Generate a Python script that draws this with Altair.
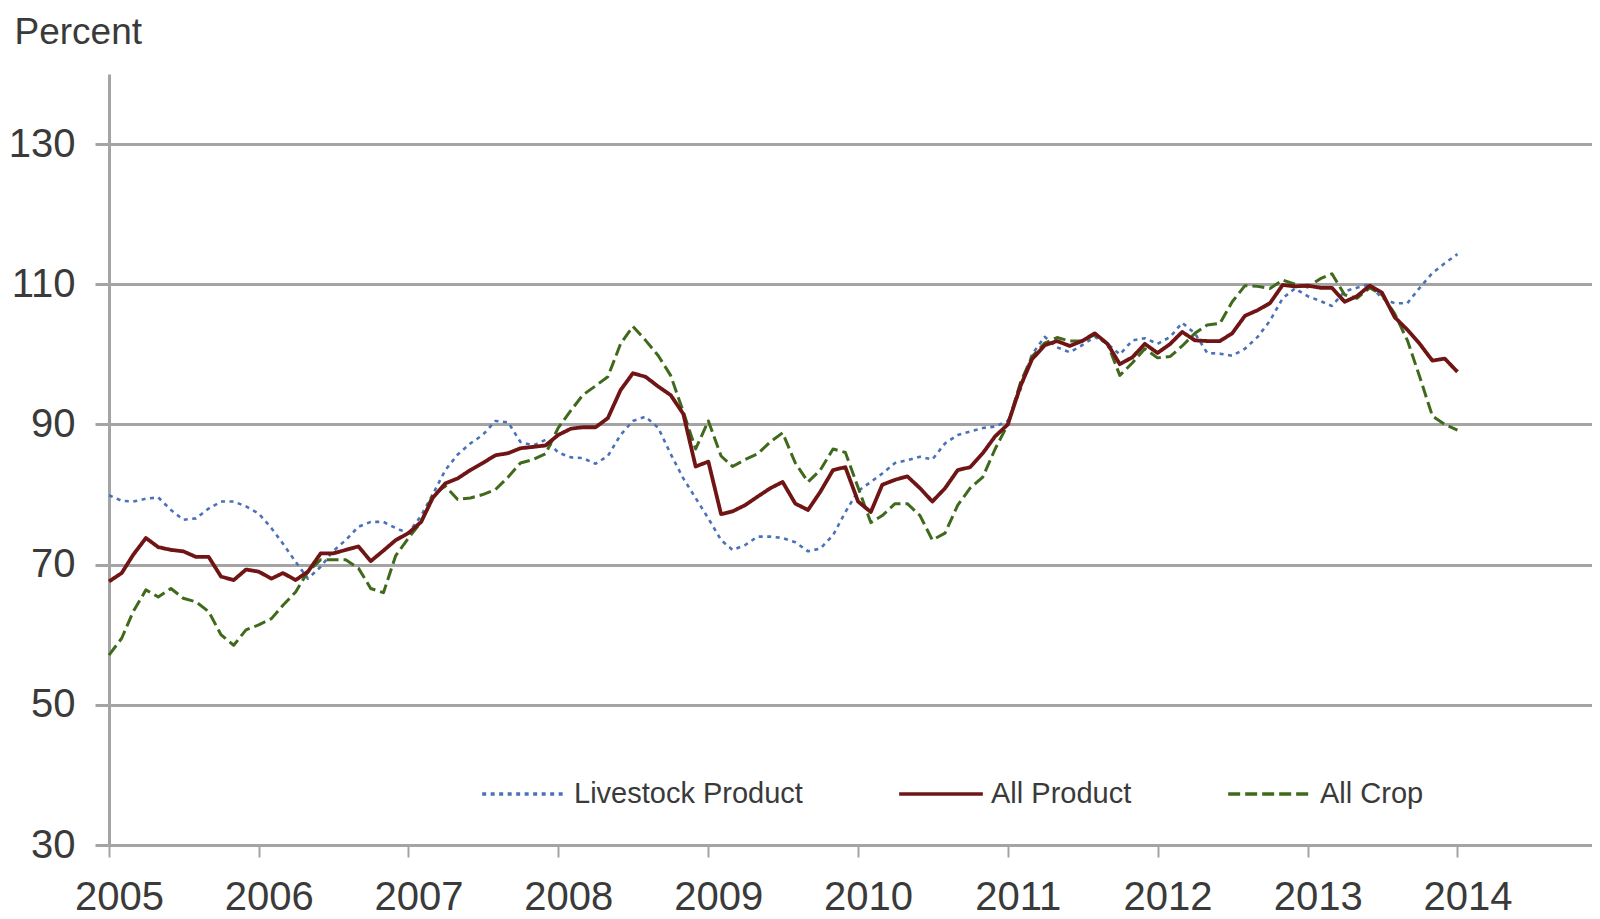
import altair as alt
import pandas as pd

# ---------------- data ----------------
series_names = ["Livestock Product", "All Product", "All Crop"]
series_colors = ["#4a72b8", "#701515", "#3f6a1c"]
series_dash = [[4, 4.5], [1, 0], [12, 5]]
series_width = [2.6, 3.8, 3.0]

first_month = "2005-01-01"
n_months = 109  # Jan 2005 .. Jan 2014
year_ticks = list(range(2005, 2015))
y_ticks = [30, 50, 70, 90, 110, 130]

livestock = [
    79.9, 79.1, 79.0, 79.4, 79.6, 77.8, 76.4, 76.6, 78.0, 79.0, 79.0, 78.3,
    77.3, 75.2, 73.0, 70.4, 68.0, 69.7, 71.9, 73.5, 75.4, 76.1, 76.1, 75.2,
    74.5, 77.0, 80.0, 83.5, 85.7, 87.3, 88.5, 90.5, 90.3, 87.5, 87.0, 87.8,
    86.0, 85.3, 85.2, 84.4, 85.5, 88.5, 90.5, 91.1, 89.5, 85.8, 82.3, 79.5,
    76.6, 73.5, 72.1, 72.8, 74.0, 74.0, 73.8, 73.2, 71.9, 72.3, 74.2, 77.5,
    80.5, 81.8, 83.0, 84.5, 84.9, 85.4, 85.0, 87.3, 88.5, 89.0, 89.5, 89.7,
    90.5, 95.0, 100.0, 102.5, 101.0, 100.3, 101.3, 102.5, 101.5, 100.0, 102.0, 102.3,
    101.5, 102.5, 104.5, 103.0, 100.2, 100.1, 99.8, 100.8, 102.5, 104.8, 108.0, 109.4,
    108.3, 107.6, 106.9, 109.0, 109.5, 110.0, 108.0, 107.3, 107.3, 109.5, 111.6, 113.0,
    114.3,
]

all_product = [
    67.6, 68.8, 71.4, 73.8, 72.5, 72.1, 71.9, 71.1, 71.1, 68.3, 67.8, 69.3,
    69.0, 68.0, 68.8, 67.8, 69.0, 71.6, 71.6, 72.1, 72.6, 70.5, 72.0, 73.5,
    74.5, 76.1, 79.5, 81.6, 82.3, 83.5, 84.5, 85.6, 85.9, 86.6, 86.8, 87.0,
    88.5, 89.4, 89.6, 89.6, 90.9, 94.9, 97.3, 96.8, 95.4, 94.2, 91.5, 84.0,
    84.7, 77.2, 77.6, 78.5, 79.7, 80.9, 81.8, 78.7, 77.8, 80.4, 83.5, 83.9,
    79.0, 77.5, 81.4, 82.1, 82.6, 80.9, 79.0, 80.9, 83.5, 83.9, 85.9, 88.3,
    90.0, 95.5, 99.3, 101.3, 101.9, 101.2, 101.9, 103.0, 101.5, 98.6, 99.6, 101.5,
    100.2, 101.5, 103.2, 102.0, 101.9, 101.9, 103.0, 105.5, 106.3, 107.3, 109.9, 109.7,
    109.8, 109.5, 109.5, 107.5, 108.3, 109.8, 108.8, 105.3, 103.5, 101.5, 99.1, 99.4,
    97.5,
]

all_crop = [
    57.1, 59.5, 63.3, 66.4, 65.4, 66.6, 65.2, 64.7, 63.3, 60.0, 58.5, 60.7,
    61.4, 62.3, 64.2, 66.1, 69.0, 70.7, 70.7, 70.7, 69.5, 66.6, 66.0, 71.3,
    73.8, 76.1, 79.9, 81.2, 79.3, 79.5, 80.0, 80.7, 82.5, 84.5, 85.0, 85.8,
    89.5, 92.0, 94.2, 95.5, 96.8, 101.5, 104.0, 102.0, 99.8, 97.0, 91.8, 86.5,
    90.5, 85.5, 84.0, 85.0, 85.8, 87.5, 88.8, 84.5, 81.8, 83.5, 86.5, 86.0,
    81.0, 76.0, 77.0, 78.7, 78.7, 77.0, 73.5, 74.5, 78.5, 80.9, 82.5, 86.5,
    90.0, 96.0, 99.7, 101.6, 102.4, 101.9, 101.9, 102.8, 101.5, 97.0, 98.8, 100.8,
    99.5, 99.7, 101.2, 103.0, 104.2, 104.4, 107.5, 109.8, 109.7, 109.4, 110.6, 110.0,
    109.6, 110.8, 111.5, 108.5, 108.0, 109.5, 108.5, 105.8, 102.0, 96.8, 91.2, 90.0,
    89.2,
]

# ---------------- table ----------------
dates = pd.date_range(first_month, periods=n_months, freq="MS").strftime("%Y-%m-%d").tolist()
values = {"Livestock Product": livestock, "All Product": all_product, "All Crop": all_crop}
rows = []
for name in series_names:
    for d, v in zip(dates, values[name]):
        rows.append({"date": d, "value": v, "series": name})
df = pd.DataFrame(rows)

# ---------------- style ----------------
FONT = "Liberation Sans, Arial, sans-serif"
TEXT = "#3a3a3a"
GRID = "#a4a4a4"

legend = alt.Legend(
    title=None,
    orient="none",
    legendX=371,
    legendY=676,
    direction="horizontal",
    symbolType="stroke",
    symbolSize=7000,
    symbolStrokeWidth=3.5,
    labelFont=FONT,
    labelFontSize=29,
    labelColor=TEXT,
    labelOffset=6,
    labelLimit=0,
    columnPadding=89,
    padding=0,
)

x_enc = alt.X(
    "date:T",
    scale=alt.Scale(
        domain=[alt.DateTime(year=2005, month=1, date=1), alt.DateTime(year=2014, month=11, date=25)]
    ),
    axis=alt.Axis(
        values=[alt.DateTime(year=y, month=1, date=1) for y in year_ticks],
        format="%Y",
        title=None,
        grid=False,
        domainColor=GRID,
        domainWidth=3,
        tickColor=GRID,
        tickSize=12,
        tickWidth=2,
        labelFont=FONT,
        labelFontSize=40,
        labelColor=TEXT,
        labelPadding=20,
        labelOffset=10,
        labelFlush=False,
        labelOverlap=False,
    ),
)

y_enc = alt.Y(
    "value:Q",
    scale=alt.Scale(domain=[30, 140], nice=False, zero=False),
    axis=alt.Axis(
        values=y_ticks,
        title="Percent",
        titleAngle=0,
        titleX=-95,
        titleY=-31,
        titleAlign="left",
        titleBaseline="alphabetic",
        titleFont=FONT,
        titleFontSize=37,
        titleFontWeight="normal",
        titleColor=TEXT,
        grid=True,
        gridColor=GRID,
        gridWidth=3,
        domainColor=GRID,
        domainWidth=3,
        tickColor=GRID,
        tickSize=14,
        tickWidth=3,
        labelFont=FONT,
        labelFontSize=40,
        labelColor=TEXT,
        labelPadding=20,
        labelFlush=False,
    ),
)

color_enc = alt.Color(
    "series:N", scale=alt.Scale(domain=series_names, range=series_colors), legend=legend
)
dash_enc = alt.StrokeDash(
    "series:N", scale=alt.Scale(domain=series_names, range=series_dash), legend=legend
)

draw_order = ["Livestock Product", "All Crop", "All Product"]
layers = []
for name in draw_order:
    i = series_names.index(name)
    layers.append(
        alt.Chart()
        .mark_line(strokeWidth=series_width[i], strokeCap="butt", strokeJoin="round")
        .encode(x=x_enc, y=y_enc, color=color_enc, strokeDash=dash_enc)
        .transform_filter(alt.datum.series == name)
    )

chart = (
    alt.layer(*layers, data=df)
    .properties(
        width=1483,
        height=771,
        autosize=alt.AutoSizeParams(type="none"),
        padding={"left": 101, "top": 66, "right": 0, "bottom": 66},
        background="white",
    )
    .configure_view(stroke=None)
)

chart.save("out.html", embed_options={"renderer": "svg", "actions": False})
